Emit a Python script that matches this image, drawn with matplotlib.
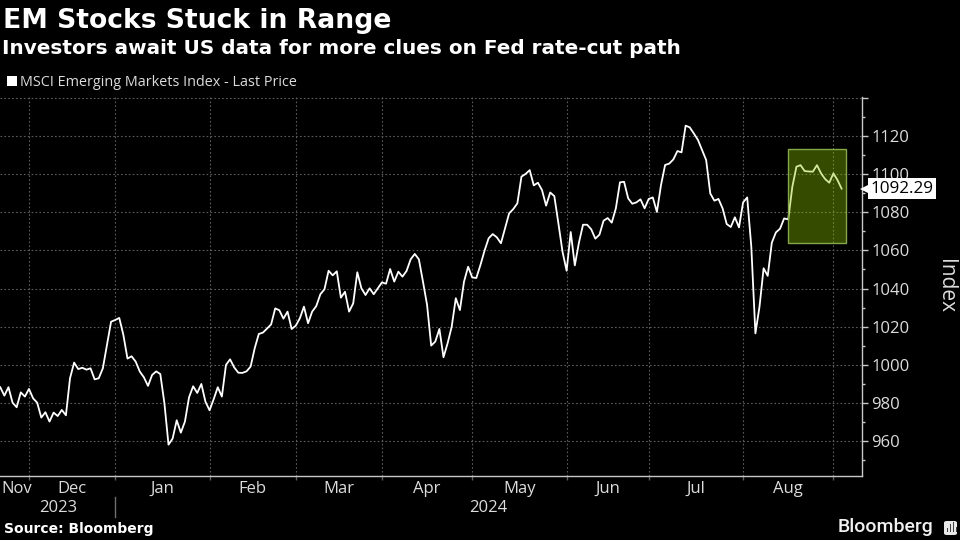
#!/usr/bin/env python3
import matplotlib
matplotlib.use("Agg")
import matplotlib.pyplot as plt
import matplotlib.patches as mpatches
import matplotlib.transforms as mtransforms
import pandas as pd

# Cierres diarios del indice (dias laborables)
index_values = [
    988.3, 983.9, 988.3, 980.2, 977.8, 985.6, 983.4, 987.4, 982.5, 980.2,
    972.4, 975.2, 970.3, 975.0, 973.2, 976.4, 973.6, 993.0, 1001.2, 997.8,
    998.5, 997.5, 998.2, 992.4, 993.0, 998.2, 1010.4, 1022.6, 1023.5, 1024.6,
    1015.7, 1003.3, 1004.5, 1001.7, 996.5, 993.5, 989.0, 994.7, 996.6, 995.2,
    979.9, 958.2, 961.4, 971.0, 964.5, 970.3, 983.0, 988.8, 985.3, 990.0,
    980.7, 976.2, 982.0, 988.3, 983.4, 1000.0, 1002.9, 998.7, 995.9, 995.8,
    996.6, 999.1, 1008.7, 1016.2, 1016.9, 1019.0, 1021.2, 1029.6, 1028.6, 1024.2,
    1027.9, 1018.8, 1020.5, 1024.4,
    1030.5, 1021.8, 1027.9, 1030.8, 1037.0, 1039.6, 1049.3, 1046.9, 1049.0, 1035.2,
    1038.3, 1027.9, 1032.2, 1048.5, 1040.1, 1036.6, 1040.1, 1037.0, 1040.1, 1043.2,
    1042.5, 1050.2, 1043.6, 1048.8, 1046.2, 1049.2, 1055.3, 1058.1, 1055.3, 1043.6,
    1031.4, 1010.1, 1012.2, 1018.8, 1004.0, 1011.3, 1020.0, 1034.9, 1028.7, 1043.6,
    1051.4, 1045.8, 1045.5, 1052.3, 1059.8, 1066.3, 1068.5, 1066.8, 1063.7, 1071.5,
    1079.4, 1081.6, 1084.6, 1098.6, 1100.0, 1102.0, 1094.0, 1095.4, 1091.6, 1083.4,
    1090.3, 1088.4, 1074.1, 1059.3, 1049.3, 1069.6, 1052.1, 1064.0,
    1073.4, 1073.4, 1071.0, 1066.1, 1068.2, 1075.5, 1076.9, 1074.5, 1082.0, 1095.6,
    1095.9, 1087.2, 1084.4, 1085.1, 1086.7, 1082.0, 1086.9, 1087.7, 1080.1, 1094.2,
    1104.7, 1105.4, 1107.6, 1112.0, 1111.3, 1125.3, 1124.4, 1121.2, 1117.8, 1112.5,
    1107.3, 1089.8, 1086.0, 1086.9, 1082.0, 1073.8, 1072.2, 1077.3, 1072.0, 1085.1,
    1087.7, 1061.9, 1016.5, 1030.5, 1050.6, 1046.6, 1064.0, 1069.4, 1071.3, 1076.7,
    1076.2,
    1093.3, 1103.8, 1104.6, 1101.5, 1101.3, 1101.2, 1104.6, 1100.3, 1097.3, 1095.4,
    1100.3, 1096.8, 1092.29,
]
start_date = "2023-11-22"
month_names = ["Nov", "Dec", "Jan", "Feb", "Mar", "Apr", "May", "Jun", "Jul", "Aug"]
y_major = [960, 980, 1000, 1020, 1040, 1060, 1080, 1100, 1120, 1140]
y_minor = [950, 970, 990, 1010, 1030, 1050, 1070, 1090, 1110, 1130]
y_labels = ["960", "980", "1000", "1020", "1040", "1060", "1080", "1100", "1120", ""]
box_low, box_high = 1064, 1113
box_first_day, box_last_day = 192, 206.1

title = "EM Stocks Stuck in Range"
subtitle = "Investors await US data for more clues on Fed rate-cut path"
legend_label = "MSCI Emerging Markets Index - Last Price"

TEXT = "#dcdcdc"
AXIS = "#c8c8c8"
GRID = "#5c5c5c"
FONT = "Open Sans"

dates = pd.bdate_range(start_date, periods=len(index_values))
days = list(range(len(index_values)))

# Primer dia laborable de cada mes (lineas verticales)
month_start = [i for i in days[1:] if dates[i].month != dates[i - 1].month]

fig = plt.figure(figsize=(9.6, 5.4), dpi=100, facecolor="black")
ax = fig.add_axes([0, 64 / 540, 861.7 / 960, 379 / 540], facecolor="black")
ax.set_xlim(-0.06, 209.9)
ax.set_ylim(941.8, 1140.3)

ax.plot(days, index_values, color="white", lw=1.3, solid_joinstyle="round", zorder=3)

# Recuadro verde sobre la ultima parte de la serie
ax.add_patch(mpatches.Rectangle((box_first_day, box_low), box_last_day - box_first_day,
                                box_high - box_low, facecolor="#8cc800", alpha=0.38,
                                edgecolor="none", zorder=4))
ax.add_patch(mpatches.Rectangle((box_first_day, box_low), box_last_day - box_first_day,
                                box_high - box_low, facecolor="none",
                                edgecolor="#86a84a", lw=1, zorder=5))

# Ejes
for side in ["top", "left"]:
    ax.spines[side].set_visible(False)
for side in ["bottom", "right"]:
    ax.spines[side].set_color(AXIS)
    ax.spines[side].set_linewidth(1)

ax.yaxis.tick_right()
ax.set_yticks(y_major)
ax.set_yticklabels(y_labels, fontfamily=FONT, fontsize=12, color=TEXT)
ax.set_yticks(y_minor, minor=True)
ax.tick_params(axis="y", which="major", length=4, width=1, color=AXIS, pad=3)
ax.tick_params(axis="y", which="minor", length=2.5, width=1, color=AXIS)
ax.set_xticks(month_start)
ax.set_xticklabels([])
ax.tick_params(axis="x", length=3, width=1, color=GRID)
ax.grid(True, which="major", color=GRID, lw=0.8, ls=(0, (1.5, 2)), zorder=1)

# Etiquetas de mes centradas entre lineas
edges = [4 - (month_start[0] - 4)] + month_start
xtrans = mtransforms.blended_transform_factory(ax.transData, ax.transAxes)
for k, name in enumerate(month_names):
    center = (edges[k] + edges[k + 1]) / 2
    ax.text(center, -13 / 379, name, transform=xtrans, ha="center", va="center",
            fontfamily=FONT, fontsize=12, color=TEXT)

# Anos y separador
ax.text(month_start[1] / 2, -32.5 / 379, "2023", transform=xtrans, ha="center", va="center",
        fontfamily=FONT, fontsize=12, color=TEXT)
ax.text(month_start[5] + 4, -32.5 / 379, "2024", transform=xtrans, ha="center", va="center",
        fontfamily=FONT, fontsize=12, color=TEXT)
ax.plot([month_start[1], month_start[1]], [-21 / 379, -41 / 379], transform=xtrans,
        color="#707070", lw=1, clip_on=False)

# Etiqueta del ultimo valor
last_value = index_values[-1]
ytrans = mtransforms.blended_transform_factory(ax.transAxes, ax.transData)
ax.plot([1.0035], [last_value], marker="<", ms=7, color="white", mew=0, transform=ytrans,
        clip_on=False, zorder=6)
ax.annotate(f"{last_value:.2f}", xy=(1, last_value), xycoords=ytrans,
            xytext=(6.5, 0), textcoords="offset points", ha="left", va="center",
            fontfamily=FONT, fontsize=12.3, color="black", zorder=7, annotation_clip=False,
            bbox=dict(boxstyle="square,pad=0.15", facecolor="white", edgecolor="none"))

# Textos fuera del eje
fig.text(3 / 960, 1 - 21 / 540, title, fontfamily="DejaVu Sans", fontweight="bold",
         fontsize=19.2, color="white", va="center")
fig.text(2 / 960, 1 - 48.5 / 540, subtitle, fontfamily="DejaVu Sans", fontweight="bold",
         fontsize=14.4, color="white", va="center")
fig.patches.append(mpatches.Rectangle((7 / 960, 1 - 85.5 / 540), 10 / 960, 10 / 540,
                                      transform=fig.transFigure, facecolor="white",
                                      edgecolor="none"))
fig.text(20 / 960, 1 - 82 / 540, legend_label, fontfamily=FONT, fontsize=10.35, color=TEXT,
         va="center")
fig.text(945 / 960, 1 - 286 / 540, "Index", fontfamily=FONT, fontsize=15, color=TEXT,
         rotation=-90, ha="center", va="center")
fig.text(4 / 960, 1 - 529.5 / 540, "Source: Bloomberg", fontfamily="DejaVu Sans",
         fontweight="bold", fontsize=10, color="white", va="center")
fig.text(838 / 960, 1 - 527 / 540, "Bloomberg", fontfamily="Roboto", fontweight="medium",
         fontsize=14, color="#f0f0f0", va="center")

# Icono de la marca
fig.patches.append(mpatches.FancyBboxPatch((944 / 960, 1 - 535 / 540), 13 / 960, 14 / 540,
                                           boxstyle="round,pad=0,rounding_size=0.003",
                                           transform=fig.transFigure, facecolor="#e8e8e8",
                                           edgecolor="none"))
for bar_x, bar_h in [(947, 4), (950, 8), (953, 10), (955.5, 5)]:
    fig.patches.append(mpatches.Rectangle((bar_x / 960, 1 - 532 / 540), 1.2 / 960, bar_h / 540,
                                          transform=fig.transFigure, facecolor="#404040",
                                          edgecolor="none"))

fig.savefig("out.png", dpi=100, facecolor="black")
plt.close(fig)
